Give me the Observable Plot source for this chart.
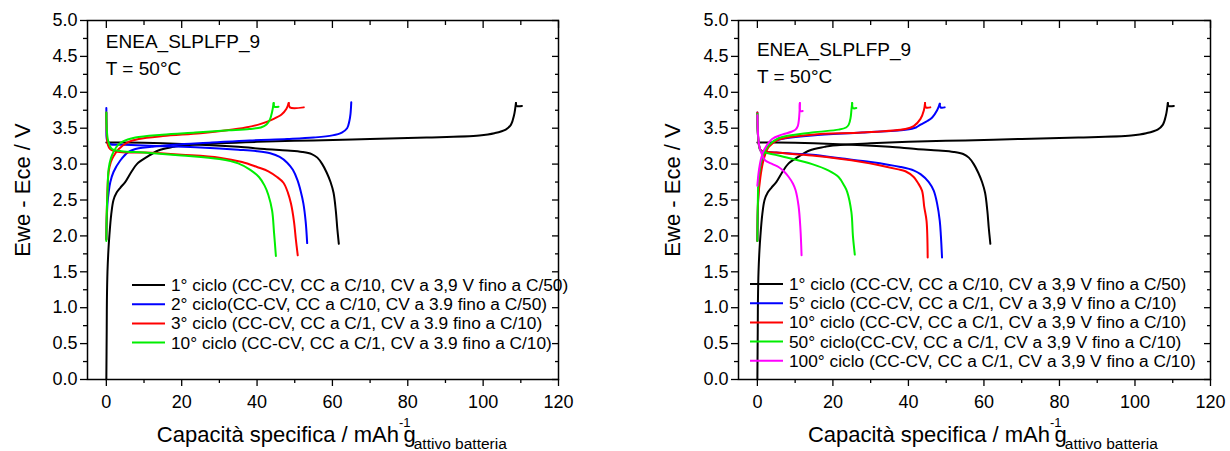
<!DOCTYPE html>
<html><head><meta charset="utf-8">
<script src="https://cdn.jsdelivr.net/npm/d3@7"></script>
<script src="https://cdn.jsdelivr.net/npm/@observablehq/plot@0.6"></script>
<style>
body{margin:0;background:#fff;}
#wrap{position:relative;width:1230px;height:451px;font-family:"Liberation Sans",Arial,sans-serif;}
#wrap svg{position:absolute;top:0;}
</style></head><body><div id="wrap"></div>
<script>
// ---------- data (capacity mAh/g, voltage V) ----------
const xMajor = [0, 20, 40, 60, 80, 100, 120];
const xMinor = [10, 30, 50, 70, 90, 110];
const yMajor = [0, 0.5, 1, 1.5, 2, 2.5, 3, 3.5, 4, 4.5, 5];
const yMinor = [0.25, 0.75, 1.25, 1.75, 2.25, 2.75, 3.25, 3.75, 4.25, 4.75];

// 1st cycle (both panels)
const c1Charge = [[0,0],[0.1,0.7],[0.15,1.1],[0.3,1.5],[0.55,1.8],[0.8,2.0],[1.3,2.3],[1.9,2.5],[2.7,2.6],[3.7,2.67],[5.0,2.75],[6.5,2.88],[8.1,3.0],[10.8,3.1],[13.8,3.19],[17.8,3.24],[20,3.26],[30,3.29],[40,3.31],[55,3.33],[70,3.35],[85,3.37],[99,3.40],[103,3.43],[106,3.48],[107.4,3.55],[108.2,3.68],[108.7,3.85]];
const c1Tail = [[108.7,3.85],[108.9,3.81],[110.3,3.81]];
const c1Discharge = [[0,3.30],[5,3.30],[15,3.29],[25,3.27],[35,3.24],[42,3.21],[48,3.19],[52,3.17],[54.5,3.14],[56,3.09],[57.3,3.0],[58.5,2.88],[59.5,2.75],[60.3,2.6],[60.9,2.35],[61.3,2.1],[61.7,1.89]];

// left panel: 2nd, 3rd, 10th cycle
const c2Charge = [[0,1.95],[0.1,2.2],[0.3,2.45],[0.6,2.6],[1.06,2.75],[1.9,2.89],[3.7,3.05],[5.9,3.17],[8.6,3.22],[12,3.24],[18,3.27],[28,3.30],[38,3.33],[48,3.35],[55,3.37],[60,3.40],[62.5,3.44],[63.9,3.50],[64.5,3.6],[64.8,3.7],[65,3.86]];
const c2Discharge = [[0,3.78],[0.05,3.55],[0.2,3.33],[1,3.28],[5,3.27],[15,3.25],[25,3.23],[35,3.20],[40,3.18],[43.5,3.15],[46,3.10],[48,3.02],[49.5,2.92],[50.7,2.78],[51.6,2.62],[52.3,2.45],[52.9,2.2],[53.3,1.9]];
const c3Charge = [[0,1.95],[0.15,2.4],[0.6,2.89],[1.2,3.03],[1.9,3.11],[3.3,3.21],[5.9,3.31],[8.6,3.35],[15,3.39],[25,3.43],[32,3.47],[37,3.51],[41,3.56],[44,3.62],[46.5,3.69],[47.8,3.77],[48.4,3.85]];
const c3Tail = [[48.4,3.85],[48.7,3.79],[52.4,3.79]];
const c3Discharge = [[0,3.72],[0.1,3.45],[0.4,3.27],[1,3.21],[3,3.17],[10,3.16],[20,3.13],[30,3.09],[36,3.03],[40,2.96],[43,2.9],[45.3,2.82],[47,2.74],[48.2,2.6],[49,2.45],[49.8,2.2],[50.3,1.95],[50.8,1.73]];
const c10aCharge = [[0,1.93],[0.1,2.3],[0.3,2.6],[0.6,2.93],[1.2,3.08],[1.9,3.17],[3,3.26],[4.2,3.31],[7.7,3.37],[14.8,3.41],[23.6,3.44],[32.5,3.47],[38,3.49],[41,3.51],[42.5,3.55],[43.4,3.62],[44,3.73],[44.4,3.85]];
const c10aTail = [[44.4,3.85],[44.6,3.80],[45.7,3.80]];
const c10aDischarge = [[0,3.72],[0.1,3.5],[0.5,3.32],[1.5,3.21],[4,3.18],[10,3.16],[20,3.12],[30,3.07],[35,3.01],[38.2,2.92],[40.5,2.82],[42,2.70],[43,2.57],[44,2.35],[44.5,2.05],[45,1.72]];

// right panel: 5th, 10th, 50th, 100th cycle
const c5Charge = [[0,1.93],[0.2,2.5],[0.5,2.85],[1.2,3.05],[2.5,3.22],[4,3.3],[5.6,3.34],[14.5,3.40],[27.7,3.44],[39.2,3.48],[42,3.51],[43.2,3.55],[45,3.6],[46.3,3.65],[47.6,3.75],[48.3,3.84]];
const c5Tail = [[48.3,3.84],[48.5,3.79],[49.6,3.79]];
const c5Discharge = [[0,3.72],[0.1,3.45],[0.5,3.24],[1,3.19],[5,3.16],[14.5,3.13],[22,3.08],[30,3.03],[37.9,2.96],[41.5,2.91],[43.2,2.86],[45.4,2.75],[46.7,2.63],[47.6,2.45],[48.3,2.21],[48.6,2.0],[48.9,1.70]];
const c10bCharge = [[0,1.93],[0.2,2.5],[0.8,2.82],[1.7,3.07],[3.0,3.24],[5.6,3.34],[14.5,3.41],[27.7,3.44],[39.2,3.49],[41.4,3.53],[43.2,3.63],[44.1,3.75],[44.4,3.85]];
const c10bTail = [[44.4,3.85],[44.6,3.79],[45.8,3.79]];
const c10bDischarge = [[0,3.72],[0.1,3.45],[0.5,3.24],[1,3.19],[5,3.16],[14.5,3.12],[27.7,3.03],[37,2.93],[39.2,2.90],[41.4,2.82],[42.5,2.74],[43.6,2.63],[44.2,2.4],[44.8,2.21],[45.1,1.70]];
const c50Charge = [[0,1.93],[0.1,2.4],[0.35,2.80],[1.2,3.07],[3.0,3.26],[5.6,3.36],[14.5,3.44],[21.5,3.48],[23.5,3.51],[24.2,3.55],[24.7,3.65],[24.9,3.75],[25.1,3.85]];
const c50Tail = [[25.1,3.85],[25.3,3.78],[26.2,3.78]];
const c50Discharge = [[0,3.70],[0.1,3.45],[0.5,3.25],[0.8,3.19],[5.6,3.12],[14.5,3.0],[18.9,2.91],[21.5,2.82],[23,2.7],[23.8,2.61],[24.9,2.33],[25.3,2.0],[25.8,1.74]];
const c100Charge = [[0,2.7],[0.35,2.89],[1.0,3.08],[1.7,3.19],[3.9,3.35],[6.5,3.41],[9,3.45],[10.1,3.48],[10.7,3.53],[11.0,3.62],[11.2,3.77],[11.25,3.85]];
const c100Tail = [[11.25,3.85],[11.4,3.74],[12,3.74]];
const c100Discharge = [[0,3.68],[0.2,3.4],[0.5,3.25],[0.8,3.19],[1.5,3.1],[2.1,3.05],[4,3.0],[5.6,2.96],[7,2.9],[8.3,2.82],[9.4,2.73],[10.1,2.64],[10.9,2.42],[11.4,2.10],[11.7,1.73]];

const leftLabels = [
  "1° ciclo (CC-CV, CC a C/10, CV a 3,9 V fino a C/50)",
  "2° ciclo(CC-CV, CC a C/10, CV a 3.9 fino a C/50)",
  "3° ciclo (CC-CV, CC a C/1, CV a 3.9 fino a C/10)",
  "10° ciclo (CC-CV, CC a C/1, CV a 3.9 fino a C/10)"
];
const rightLabels = [
  "1° ciclo (CC-CV, CC a C/10, CV a 3,9 V fino a C/50)",
  "5° ciclo (CC-CV, CC a C/1, CV a 3,9 V fino a C/10)",
  "10° ciclo (CC-CV, CC a C/1, CV a 3,9 V fino a C/10)",
  "50° ciclo(CC-CV, CC a C/1, CV a 3,9 V fino a C/10)",
  "100° ciclo (CC-CV, CC a C/1, CV a 3,9 V fino a C/10)"
];
const leftColors = ["#000000", "#0000ff", "#ff0000", "#00ee00"];
const rightColors = ["#000000", "#0000ff", "#ff0000", "#00ee00", "#ff00ff"];

const leftSeries = [
  [c1Charge, c1Tail, c1Discharge],
  [c2Charge, c2Discharge],
  [c3Charge, c3Tail, c3Discharge],
  [c10aCharge, c10aTail, c10aDischarge]
];
const rightSeries = [
  [c1Charge, c1Tail, c1Discharge],
  [c5Charge, c5Tail, c5Discharge],
  [c10bCharge, c10bTail, c10bDischarge],
  [c50Charge, c50Tail, c50Discharge],
  [c100Charge, c100Tail, c100Discharge]
];

const FONT = "'Liberation Sans', Arial, sans-serif";
const blank = () => "";

function makePanel(cfg) {
  const marks = [];
  cfg.series.forEach((segs, i) => {
    segs.forEach(seg => {
      marks.push(Plot.line(seg, {x: d => d[0], y: d => d[1], stroke: cfg.colors[i], strokeWidth: 2, curve: "catmull-rom"}));
    });
  });
  marks.push(
    Plot.frame({stroke: "black", strokeWidth: 1.5}),
    Plot.axisY(yMajor, {anchor: "left", tickSize: 7, tickPadding: 3, tickFormat: d3.format(".1f"), fontSize: 18, label: null, strokeWidth: 1.3}),
    Plot.axisY(yMinor, {anchor: "left", tickSize: 4, tickFormat: blank, label: null, strokeWidth: 1.3}),
    Plot.axisY(yMajor, {anchor: "right", tickSize: -7, tickFormat: blank, label: null, strokeWidth: 1.3}),
    Plot.axisY(yMinor, {anchor: "right", tickSize: -4, tickFormat: blank, label: null, strokeWidth: 1.3}),
    Plot.axisX(xMajor, {anchor: "bottom", tickSize: 7, tickPadding: 9, tickFormat: d3.format("d"), fontSize: 18, label: null, strokeWidth: 1.3}),
    Plot.axisX(xMinor, {anchor: "bottom", tickSize: 4, tickFormat: blank, label: null, strokeWidth: 1.3}),
    Plot.axisX(xMajor, {anchor: "top", tickSize: -7, tickFormat: blank, label: null, strokeWidth: 1.3}),
    Plot.axisX(xMinor, {anchor: "top", tickSize: -4, tickFormat: blank, label: null, strokeWidth: 1.3})
  );
  const svg = Plot.plot({
    width: 615, height: 451,
    marginLeft: cfg.marginLeft, marginRight: cfg.marginRight, marginTop: 20, marginBottom: 72,
    x: {domain: [-5, 120], axis: null},
    y: {domain: [0, 5], axis: null},
    style: {fontFamily: FONT, color: "black", background: "transparent", overflow: "visible"},
    marks
  });
  svg.style.left = cfg.left + "px";
  const s = d3.select(svg);
  const xs = svg.scale("x");
  const x0 = xs.apply(0);
  // y label
  s.append("text").attr("transform", `translate(${cfg.yLabelX},190) rotate(-90)`)
    .attr("text-anchor", "middle").attr("dominant-baseline", "central")
    .attr("font-size", 22).attr("font-family", FONT).attr("fill", "black").text("Ewe - Ece / V");
  // x label with super/subscripts
  const t = s.append("text").attr("x", x0 + 51).attr("y", 442).attr("text-anchor", "start")
    .attr("font-size", 22).attr("font-family", FONT).attr("fill", "black");
  t.append("tspan").text("Capacità specifica / mAh");
  t.append("tspan").attr("font-size", 13).attr("dy", -15).text("-1");
  t.append("tspan").attr("font-size", 22).attr("dx", -7).attr("dy", 15).text("g");
  t.append("tspan").attr("font-size", 15.5).attr("dx", -2).attr("dy", 7).text("attivo batteria");
  // annotations
  s.append("text").attr("x", x0).attr("y", cfg.annY).attr("text-anchor", "start").attr("font-size", 19).attr("font-family", FONT).attr("fill", "black").text("ENEA_SLPLFP_9");
  s.append("text").attr("x", x0).attr("y", cfg.annY + 27).attr("text-anchor", "start").attr("font-size", 19).attr("font-family", FONT).attr("fill", "black").text("T = 50°C");
  // legend
  cfg.labels.forEach((lab, i) => {
    const y = cfg.legY + i * 19.2;
    s.append("line").attr("x1", cfg.legX).attr("x2", cfg.legX + 33).attr("y1", y).attr("y2", y)
      .attr("stroke", cfg.colors[i]).attr("stroke-width", 2);
    s.append("text").attr("x", cfg.legX + 39).attr("y", y).attr("text-anchor", "start").attr("dominant-baseline", "central")
      .attr("font-size", 17.3).attr("font-family", FONT).attr("fill", "black").text(lab);
  });
  document.getElementById("wrap").appendChild(svg);
}

makePanel({series: leftSeries, colors: leftColors, labels: leftLabels, left: 0,
  marginLeft: 87, marginRight: 57, yLabelX: 22.5, annY: 48, legX: 132, legY: 285});
makePanel({series: rightSeries, colors: rightColors, labels: rightLabels, left: 615,
  marginLeft: 123, marginRight: 20, yLabelX: 672.5 - 615, annY: 56, legX: 750 - 615, legY: 284});
</script></body></html>
